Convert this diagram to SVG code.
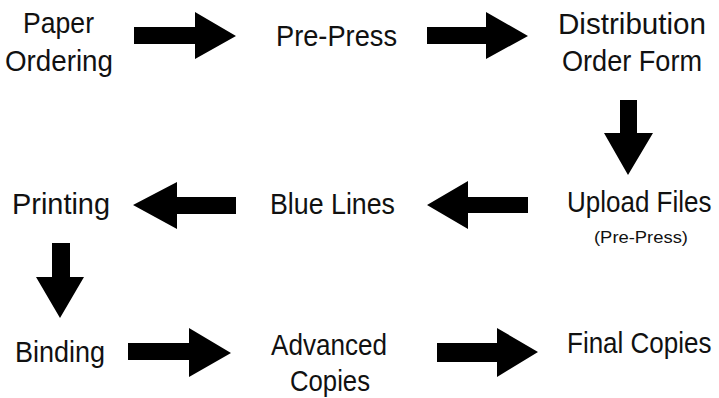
<svg xmlns="http://www.w3.org/2000/svg" width="719" height="398" viewBox="0 0 719 398">
<style>
.t{font-family:"Liberation Sans",Arial,sans-serif;font-size:29px;fill:#111}
.r{font-family:"Liberation Sans",Arial,sans-serif;font-size:26px;fill:#111}
.s{font-family:"Liberation Sans",Arial,sans-serif;font-size:17px;fill:#111}
.a{fill:#000}
</style>
<rect width="719" height="398" fill="#fff"/>
<g id="n-paper"><text class="t" x="23" y="33" textLength="71" lengthAdjust="spacingAndGlyphs">Paper</text><text class="t" x="5" y="71" textLength="108" lengthAdjust="spacingAndGlyphs">Ordering</text></g>
<g id="n-prepress"><text class="t" x="276" y="46" textLength="121" lengthAdjust="spacingAndGlyphs">Pre-Press</text></g>
<g id="n-distribution"><text class="t" x="558" y="34" textLength="148" lengthAdjust="spacingAndGlyphs">Distribution</text><text class="t" x="562" y="71" textLength="140" lengthAdjust="spacingAndGlyphs">Order Form</text></g>
<g id="n-upload"><text class="r" transform="translate(567,212) scale(1,1.1)" x="0" y="0">Upload Files</text><text class="s" x="594" y="243" textLength="94" lengthAdjust="spacingAndGlyphs">(Pre-Press)</text></g>
<g id="n-bluelines"><text class="t" x="270" y="214" textLength="125" lengthAdjust="spacingAndGlyphs">Blue Lines</text></g>
<g id="n-printing"><text class="t" x="12" y="214" textLength="98" lengthAdjust="spacingAndGlyphs">Printing</text></g>
<g id="n-binding"><text class="t" x="15" y="362" textLength="90" lengthAdjust="spacingAndGlyphs">Binding</text></g>
<g id="n-advanced"><text class="t" x="271" y="355" textLength="116" lengthAdjust="spacingAndGlyphs">Advanced</text><text class="t" x="290" y="391" textLength="80" lengthAdjust="spacingAndGlyphs">Copies</text></g>
<g id="n-final"><text class="r" transform="translate(567,353) scale(1,1.1)" x="0" y="0">Final Copies</text></g>
<g id="connectors">
<polygon class="a" points="134,27 195,27 195,12 236,36 195,59 195,44 134,44"/>
<polygon class="a" points="427,27 486,27 486,12 528,36 486,59 486,44 427,44"/>
<polygon class="a" points="620,100 637,100 637,133 653,133 628,175 604,133 620,133"/>
<polygon class="a" points="528,197 468,197 468,181 427,205 468,229 468,213 528,213"/>
<polygon class="a" points="236,197 177,197 177,182 133,205 177,229 177,214 236,214"/>
<polygon class="a" points="52,243 70,243 70,277 84,277 60,318 36,277 52,277"/>
<polygon class="a" points="128,343 189,343 189,328 231,353 189,377 189,360 128,360"/>
<polygon class="a" points="437,343 497,343 497,328 538,352 497,377 497,362 437,362"/>
</g>
</svg>
